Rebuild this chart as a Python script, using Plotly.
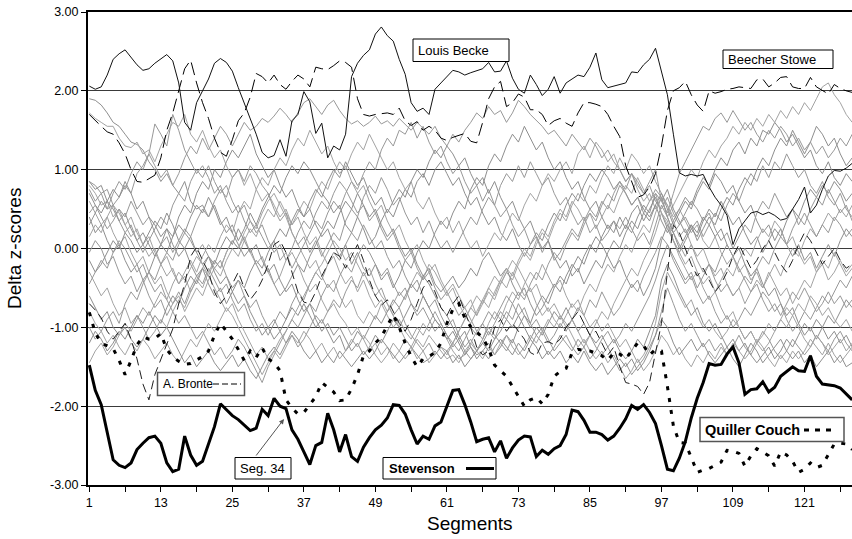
import plotly.graph_objects as go

# ---------------- data ----------------
segments = list(range(1, 130))
x_tick_values = list(range(1, 130, 6))
x_tick_labels = [str(v) if (v - 1) % 12 == 0 else "" for v in x_tick_values]
y_tick_values = [3, 2, 1, 0, -1, -2, -3]
y_tick_labels = ["3.00", "2.00", "1.00", "0.00", "-1.00", "-2.00", "-3.00"]

stevenson = [-1.48,-1.80,-1.98,-2.35,-2.68,-2.75,-2.78,-2.72,-2.55,-2.47,
             -2.40,-2.38,-2.47,-2.72,-2.83,-2.80,-2.38,-2.62,-2.75,-2.70,
             -2.48,-2.26,-1.97,-2.05,-2.12,-2.17,-2.24,-2.31,-2.28,-2.04,
             -2.12,-1.90,-2.00,-2.03,-2.30,-2.42,-2.58,-2.74,-2.50,-2.46,
             -2.09,-2.30,-2.58,-2.36,-2.64,-2.70,-2.52,-2.40,-2.30,-2.24,
             -2.15,-1.98,-1.99,-2.10,-2.30,-2.48,-2.38,-2.42,-2.25,-2.20,
             -2.00,-1.80,-1.79,-1.98,-2.20,-2.45,-2.42,-2.40,-2.58,-2.44,
             -2.66,-2.53,-2.43,-2.38,-2.39,-2.64,-2.56,-2.61,-2.54,-2.50,
             -2.36,-2.05,-2.07,-2.18,-2.33,-2.33,-2.36,-2.43,-2.38,-2.28,
             -2.16,-1.99,-2.04,-1.98,-2.08,-2.22,-2.50,-2.80,-2.82,-2.66,
             -2.45,-2.15,-1.90,-1.70,-1.46,-1.48,-1.47,-1.34,-1.25,-1.45,
             -1.85,-1.79,-1.78,-1.69,-1.82,-1.76,-1.62,-1.56,-1.50,-1.55,
             -1.56,-1.36,-1.62,-1.72,-1.73,-1.74,-1.77,-1.85,-1.92]

quiller_couch = [-0.81,-1.07,-1.20,-1.24,-1.27,-1.42,-1.60,-1.42,-1.22,-1.12,
                 -1.15,-1.14,-1.08,-1.28,-1.38,-1.43,-1.47,-1.46,-1.42,-1.37,
                 -1.30,-1.10,-0.95,-1.05,-1.15,-1.28,-1.42,-1.30,-1.38,-1.26,
                 -1.40,-1.45,-1.55,-1.92,-2.02,-2.10,-2.08,-1.98,-1.88,-1.70,
                 -1.76,-1.82,-1.93,-1.92,-1.78,-1.60,-1.36,-1.30,-1.20,-1.12,
                 -0.98,-0.84,-1.00,-1.20,-1.37,-1.50,-1.40,-1.37,-1.32,-1.20,
                 -0.95,-0.77,-0.70,-0.88,-0.99,-1.06,-1.13,-1.27,-1.48,-1.55,
                 -1.62,-1.75,-1.88,-2.00,-1.92,-1.89,-1.97,-1.85,-1.62,-1.56,
                 -1.52,-1.32,-1.28,-1.29,-1.30,-1.33,-1.36,-1.42,-1.32,-1.34,
                 -1.40,-1.30,-1.20,-1.23,-1.35,-1.28,-1.30,-1.75,-2.25,-2.46,
                 -2.47,-2.65,-2.84,-2.81,-2.79,-2.75,-2.71,-2.56,-2.57,-2.60,
                 -2.76,-2.63,-2.54,-2.58,-2.63,-2.76,-2.58,-2.62,-2.70,-2.84,
                 -2.80,-2.72,-2.78,-2.75,-2.62,-2.48,-2.47,-2.48,-2.55]

louis_becke = [2.06,2.02,2.05,2.20,2.40,2.47,2.52,2.42,2.33,2.26,
               2.28,2.35,2.40,2.46,2.38,2.10,1.60,1.50,1.85,2.00,
               2.15,2.35,2.41,2.36,2.25,2.04,1.85,1.65,1.45,1.22,
               1.15,1.18,1.38,1.17,1.62,1.70,1.99,1.86,1.46,1.59,
               1.15,1.30,1.25,1.45,2.18,2.35,2.45,2.52,2.72,2.81,
               2.70,2.63,2.40,2.21,1.85,1.74,1.78,1.70,2.02,2.10,
               2.18,2.26,2.24,2.20,2.23,2.26,2.28,2.36,2.24,2.25,
               2.38,2.16,2.02,1.97,2.20,2.08,1.94,2.02,2.18,1.97,
               2.10,2.15,2.20,2.18,2.30,2.48,2.14,2.04,2.06,2.08,
               2.10,2.24,2.23,2.33,2.40,2.54,2.25,1.95,1.45,0.96,
               0.92,0.94,0.92,0.94,0.78,0.65,0.55,0.42,0.05,0.25,
               0.35,0.45,0.47,0.43,0.46,0.42,0.36,0.38,0.50,0.62,
               0.78,0.45,0.55,0.75,0.92,0.99,0.98,1.02,1.08]

beecher_stowe = [1.70,1.62,1.55,1.48,1.45,1.34,1.20,1.00,0.85,0.84,
                 0.88,0.93,1.15,1.50,1.72,2.00,2.28,2.39,2.10,1.85,
                 1.65,1.40,1.22,1.17,1.38,1.62,1.72,1.92,2.22,2.18,
                 2.10,2.20,2.08,2.02,2.12,2.20,2.15,2.05,2.30,2.28,
                 2.27,2.32,2.38,2.36,2.30,1.90,1.70,1.68,1.70,1.71,
                 1.72,1.70,1.78,1.62,1.56,1.61,1.50,1.55,1.50,1.40,
                 1.37,1.41,1.44,1.46,1.36,1.34,1.60,1.90,2.05,2.12,
                 1.80,1.85,1.96,1.92,1.76,1.76,1.70,1.56,1.62,1.65,
                 1.59,1.55,1.72,1.85,1.85,1.83,1.80,1.70,1.55,1.42,
                 1.05,0.85,0.65,0.68,0.78,0.95,1.30,1.75,2.00,2.04,
                 2.12,1.95,1.82,1.74,2.00,1.97,1.99,2.02,2.03,2.05,
                 2.04,2.03,2.14,2.15,2.05,2.10,2.17,2.18,2.05,2.03,
                 2.03,2.17,2.05,2.01,1.96,2.08,2.03,2.00,1.98]

a_bronte = [-0.70,-0.78,-0.88,-1.05,-1.15,-1.05,-0.95,-1.15,-1.40,-1.72,
            -1.92,-1.60,-1.40,-1.20,-1.02,-0.70,-0.45,-0.10,0.02,-0.15,
            -0.30,-0.55,-0.70,-0.60,-0.45,-0.30,-0.50,-0.65,-0.55,-0.40,
            -0.20,0.05,0.10,-0.05,-0.30,-0.55,-0.68,-0.70,-0.55,-0.35,
            -0.20,-0.05,-0.10,-0.25,-0.10,0.05,-0.15,-0.40,-0.60,-0.72,
            -0.65,-0.80,-0.95,-1.05,-0.90,-0.70,-0.50,-0.40,-0.55,-0.75,
            -0.85,-0.70,-0.60,-0.80,-1.00,-1.25,-1.35,-1.30,-1.00,-0.90,
            -1.05,-0.95,-1.05,-1.15,-1.32,-1.36,-1.20,-1.18,-1.22,-1.15,
            -1.00,-0.90,-0.80,-0.95,-1.10,-1.05,-1.20,-1.35,-1.25,-1.50,
            -1.70,-1.72,-1.75,-1.85,-1.70,-1.30,-0.95,-0.30,0.30,0.20,
            0.00,-0.20,-0.35,-0.25,-0.40,-0.55,-0.45,-0.30,-0.10,0.05,
            -0.10,-0.25,-0.15,0.00,0.10,-0.05,-0.20,-0.30,-0.15,0.05,
            0.20,0.10,-0.05,-0.20,-0.10,0.00,-0.15,-0.25,-0.20]

gray_01 = [1.90,1.88,1.82,1.72,1.60,1.55,1.45,1.35,1.32,1.25,
           1.10,1.00,0.85,0.95,0.80,0.70,0.85,0.60,0.50,0.55,
           0.40,0.55,0.35,0.20,0.30,0.10,0.25,0.45,0.30,0.50,
           0.65,0.80,0.70,0.90,1.05,0.95,1.10,1.00,0.85,0.70,
           0.60,0.45,0.55,0.30,0.20,0.40,0.25,0.05,0.15,0.35,
           0.50,0.40,0.60,0.75,0.65,0.85,0.95,0.80,1.00,1.10,
           0.95,0.80,0.90,0.70,0.55,0.65,0.45,0.30,0.40,0.20,
           0.10,0.25,0.05,-0.10,0.05,0.20,0.10,0.30,0.45,0.35,
           0.55,0.70,0.60,0.80,0.95,0.85,1.00,0.90,0.75,0.85,
           0.70,0.55,0.65,0.50,0.40,0.55,0.35,0.20,0.35,0.50,
           0.65,0.55,0.75,0.90,0.80,1.00,1.15,1.05,1.25,1.35,
           1.20,1.40,1.30,1.50,1.45,1.60,1.50,1.35,1.45,1.30,
           1.15,1.25,1.05,0.95,1.10,0.90,0.80,0.95,0.85]
gray_02 = [1.72,1.65,1.60,1.55,1.55,1.40,1.30,1.28,1.35,1.20,
           1.25,1.10,1.30,1.45,1.60,1.55,1.70,1.45,1.35,1.50,
           1.30,1.15,1.25,1.05,0.90,1.00,0.80,0.95,0.75,0.60,
           0.70,0.55,0.40,0.50,0.30,0.45,0.60,0.50,0.70,0.85,
           0.75,0.95,1.10,1.00,1.20,1.35,1.25,1.45,1.30,1.15,
           1.00,1.10,0.90,0.75,0.85,0.60,0.50,0.65,0.45,0.30,
           0.40,0.20,0.35,0.15,0.00,0.10,-0.10,0.05,0.20,0.10,
           0.30,0.45,0.35,0.55,0.70,0.60,0.80,0.95,0.85,1.00,
           1.10,0.95,1.20,1.30,1.15,1.35,1.25,1.10,1.20,1.00,
           0.85,0.95,0.75,0.60,0.70,0.50,0.65,0.40,0.55,0.70,
           0.85,1.00,0.90,1.10,1.25,1.15,1.30,1.40,1.55,1.45,
           1.60,1.50,1.65,1.55,1.70,1.60,1.75,1.65,1.80,1.70,
           1.85,1.75,1.90,2.05,2.10,1.95,1.85,1.70,1.60]
gray_03 = [0.85,0.80,0.70,0.75,0.55,0.65,0.80,0.70,0.95,1.05,
           1.20,1.58,1.45,1.30,1.70,1.50,1.25,1.10,0.95,1.05,
           0.90,0.70,0.80,0.60,0.45,0.55,0.35,0.20,0.30,0.15,
           0.00,0.10,-0.15,-0.05,-0.25,-0.10,0.05,0.20,0.35,0.25,
           0.45,0.60,0.50,0.70,0.85,0.75,0.95,1.10,1.00,1.25,
           1.40,1.30,1.50,1.45,1.60,1.40,1.55,1.35,1.20,1.30,
           1.10,0.95,1.05,0.85,0.70,0.80,0.60,0.75,0.55,0.40,
           0.50,0.30,0.15,0.25,0.05,0.15,-0.05,0.10,-0.15,-0.05,
           0.10,0.25,0.15,0.35,0.50,0.40,0.60,0.50,0.70,0.85,
           0.75,0.95,0.85,0.70,0.80,0.60,0.50,0.65,0.45,0.30,
           0.40,0.25,0.35,0.15,0.30,0.45,0.35,0.55,0.70,0.60,
           0.80,0.95,0.85,1.05,0.90,1.10,1.00,1.20,1.05,0.90,
           1.00,0.80,0.70,0.85,0.65,0.55,0.70,0.50,0.40]
gray_04 = [0.85,0.75,0.80,0.60,0.50,0.35,0.45,0.25,0.10,0.20,
           0.05,-0.10,0.05,0.25,0.15,0.40,0.55,0.45,0.70,0.85,
           0.75,1.00,0.90,1.10,1.25,1.15,1.30,1.45,1.20,1.05,
           0.90,1.00,0.80,0.65,0.75,0.55,0.40,0.50,0.30,0.15,
           0.25,0.05,-0.10,0.05,-0.20,-0.05,-0.25,-0.35,-0.20,-0.40,
           -0.30,-0.50,-0.35,-0.15,-0.25,-0.05,0.10,0.00,0.20,0.35,
           0.25,0.45,0.60,0.50,0.75,0.90,0.80,1.05,1.20,1.10,
           1.30,1.45,1.35,1.55,1.40,1.25,1.35,1.15,1.00,1.10,
           0.90,0.75,0.85,0.65,0.50,0.60,0.40,0.25,0.35,0.15,
           0.30,0.20,0.40,0.55,0.45,0.70,0.60,0.75,0.50,0.35,
           0.20,0.30,0.10,0.25,0.40,0.30,0.50,0.65,0.55,0.75,
           0.90,0.80,1.00,1.15,1.05,1.25,1.40,1.30,1.50,1.35,
           1.20,1.35,1.55,1.45,1.30,1.40,1.20,1.05,1.15]
gray_05 = [0.80,0.70,0.55,0.60,0.40,0.50,0.30,0.15,0.25,0.05,
           -0.10,0.00,-0.20,-0.35,-0.25,-0.45,-0.30,-0.15,-0.30,-0.10,
           0.05,-0.05,0.15,0.30,0.20,0.45,0.60,0.50,0.75,0.90,
           0.80,1.00,1.15,1.05,1.25,1.40,1.30,1.50,1.35,1.20,
           1.30,1.10,0.95,1.05,0.85,0.70,0.80,0.60,0.45,0.55,
           0.35,0.20,0.30,0.10,-0.05,0.05,-0.15,-0.30,-0.20,-0.40,
           -0.55,-0.45,-0.60,-0.75,-0.65,-0.85,-0.70,-0.55,-0.65,-0.45,
           -0.30,-0.40,-0.20,-0.05,-0.15,0.05,0.20,0.10,0.30,0.45,
           0.35,0.55,0.70,0.60,0.80,0.70,0.90,1.05,0.95,1.15,
           1.00,1.20,1.10,0.95,1.05,0.85,0.70,0.55,0.40,0.50,
           0.35,0.20,0.30,0.10,0.00,0.15,-0.05,-0.20,-0.10,-0.30,
           -0.20,-0.40,-0.30,-0.50,-0.35,-0.20,-0.35,-0.15,0.00,-0.10,
           0.10,0.25,0.15,0.30,0.45,0.35,0.50,0.40,0.55]
gray_06 = [0.75,0.60,0.70,0.50,0.55,0.35,0.20,0.30,0.10,-0.05,
           0.10,0.25,0.40,0.30,0.55,0.70,0.60,0.85,1.00,0.90,
           1.05,0.85,0.70,0.80,0.60,0.45,0.55,0.35,0.20,0.30,
           0.10,-0.05,0.05,-0.15,0.00,0.20,0.35,0.25,0.45,0.60,
           0.50,0.70,0.85,0.75,0.60,0.45,0.55,0.35,0.45,0.25,
           0.10,0.20,0.00,-0.15,-0.05,-0.25,-0.40,-0.30,-0.50,-0.65,
           -0.55,-0.70,-0.85,-0.75,-0.90,-1.05,-0.95,-1.10,-0.95,-0.80,
           -0.90,-0.70,-0.55,-0.65,-0.45,-0.30,-0.40,-0.20,-0.05,-0.15,
           0.05,0.20,0.10,0.30,0.45,0.35,0.55,0.70,0.60,0.80,
           0.70,0.55,0.65,0.45,0.60,0.75,0.65,0.40,0.20,0.05,
           -0.10,0.05,-0.15,-0.30,-0.20,-0.40,-0.55,-0.45,-0.60,-0.50,
           -0.35,-0.45,-0.25,-0.10,-0.20,0.00,0.15,0.05,0.25,0.40,
           0.30,0.50,0.65,0.55,0.75,0.60,0.45,0.55,0.35]
gray_07 = [0.70,0.55,0.45,0.60,0.75,0.65,0.85,0.70,0.50,0.60,
           0.40,0.30,0.15,0.25,0.05,-0.10,0.00,-0.20,-0.35,-0.25,
           -0.45,-0.60,-0.50,-0.70,-0.55,-0.40,-0.50,-0.30,-0.15,-0.25,
           -0.05,0.10,0.25,0.15,0.35,0.50,0.40,0.60,0.75,0.65,
           0.85,1.00,0.90,1.10,0.95,0.80,0.90,0.70,0.55,0.65,
           0.45,0.60,0.75,0.65,0.85,1.00,0.90,1.10,1.25,1.15,
           1.30,1.20,1.05,1.15,0.95,0.80,0.90,0.70,0.85,0.65,
           0.50,0.60,0.40,0.25,0.35,0.15,0.00,0.10,-0.10,-0.25,
           -0.15,-0.35,-0.25,-0.45,-0.30,-0.15,-0.25,-0.05,0.10,0.00,
           0.20,0.35,0.25,0.45,0.35,0.55,0.70,0.50,0.30,0.45,
           0.60,0.50,0.70,0.85,0.75,0.95,0.85,0.70,0.80,0.60,
           0.45,0.55,0.35,0.20,0.30,0.10,0.25,0.05,-0.10,0.05,
           -0.15,-0.05,-0.25,-0.10,0.05,-0.10,0.10,0.25,0.15]
gray_08 = [0.60,0.45,0.30,0.40,0.20,0.05,0.15,-0.05,-0.20,-0.10,
           -0.30,-0.45,-0.35,-0.55,-0.70,-0.60,-0.80,-0.65,-0.50,-0.60,
           -0.40,-0.25,-0.35,-0.15,0.00,-0.10,0.10,0.25,0.15,0.35,
           0.50,0.40,0.60,0.45,0.30,0.40,0.20,0.05,0.15,-0.05,
           -0.20,-0.10,-0.30,-0.45,-0.35,-0.55,-0.40,-0.60,-0.75,-0.65,
           -0.80,-0.70,-0.55,-0.65,-0.45,-0.30,-0.40,-0.20,-0.30,-0.45,
           -0.60,-0.50,-0.70,-0.85,-0.95,-0.80,-0.65,-0.75,-0.55,-0.40,
           -0.50,-0.30,-0.45,-0.60,-0.50,-0.70,-0.85,-0.75,-0.90,-1.00,
           -0.85,-0.70,-0.80,-0.60,-0.45,-0.55,-0.35,-0.20,-0.30,-0.10,
           0.05,-0.05,0.15,0.30,0.20,0.45,0.65,0.55,0.35,0.15,
           0.25,0.05,-0.10,0.00,-0.20,-0.35,-0.25,-0.45,-0.60,-0.50,
           -0.70,-0.55,-0.40,-0.50,-0.30,-0.45,-0.60,-0.50,-0.70,-0.55,
           -0.40,-0.50,-0.30,-0.15,-0.25,-0.05,-0.20,-0.35,-0.25]
gray_09 = [0.45,0.55,0.40,0.25,0.35,0.50,0.40,0.60,0.45,0.30,
           0.40,0.20,0.05,0.15,-0.05,0.10,0.25,0.15,0.35,0.50,
           0.40,0.60,0.75,0.65,0.90,1.00,0.85,1.05,0.95,0.80,
           0.70,0.50,0.35,0.45,0.20,0.05,0.15,-0.05,0.10,-0.10,
           0.05,0.20,0.10,0.35,0.50,0.40,0.65,0.80,0.70,0.90,
           0.75,0.55,0.65,0.45,0.30,0.40,0.20,0.35,0.15,0.00,
           0.10,-0.05,0.10,0.25,0.40,0.30,0.50,0.65,0.55,0.80,
           0.95,0.85,1.05,0.90,1.10,0.95,0.80,0.90,0.70,0.55,
           0.65,0.45,0.30,0.40,0.20,0.30,0.10,0.20,0.35,0.25,
           0.40,0.25,0.10,0.20,0.05,0.30,0.55,0.40,0.20,0.30,
           0.45,0.60,0.50,0.35,0.45,0.25,0.10,0.20,0.00,0.15,
           0.30,0.20,0.45,0.60,0.50,0.70,0.55,0.40,0.50,0.30,
           0.45,0.30,0.15,0.30,0.20,0.40,0.30,0.15,0.25]
gray_10 = [0.40,0.20,0.30,0.10,-0.05,0.05,-0.15,-0.30,-0.20,-0.40,
           -0.30,-0.10,0.05,-0.05,0.15,0.30,0.20,0.40,0.55,0.45,
           0.65,0.50,0.30,0.40,0.20,0.05,-0.10,0.00,-0.20,-0.35,
           -0.25,-0.45,-0.60,-0.50,-0.35,-0.20,-0.30,-0.10,0.05,0.20,
           0.35,0.25,0.45,0.60,0.50,0.70,0.55,0.40,0.50,0.30,
           0.15,0.25,0.05,-0.10,0.00,-0.20,-0.35,-0.25,-0.45,-0.55,
           -0.45,-0.35,-0.50,-0.40,-0.25,-0.35,-0.15,-0.05,-0.20,-0.35,
           -0.25,-0.45,-0.60,-0.50,-0.70,-0.85,-0.75,-0.60,-0.45,-0.55,
           -0.35,-0.20,-0.30,-0.10,0.05,-0.05,0.15,0.30,0.20,0.40,
           0.25,0.45,0.55,0.35,0.50,0.65,0.45,0.25,0.10,-0.05,
           0.10,0.25,0.15,0.35,0.50,0.40,0.60,0.45,0.30,0.40,
           0.20,0.05,0.15,-0.05,0.10,0.25,0.15,0.35,0.50,0.40,
           0.60,0.75,0.65,0.80,0.70,0.85,0.75,0.60,0.70]
gray_11 = [0.15,0.30,0.20,0.40,0.55,0.45,0.30,0.40,0.20,0.05,
           0.15,-0.05,-0.20,-0.10,-0.30,-0.45,-0.35,-0.55,-0.40,-0.25,
           -0.35,-0.15,-0.25,-0.05,0.10,0.00,0.20,0.35,0.25,0.45,
           0.60,0.70,0.55,0.40,0.20,0.05,-0.10,-0.25,-0.15,-0.35,
           -0.50,-0.40,-0.60,-0.75,-0.65,-0.85,-0.95,-0.80,-0.90,-0.70,
           -0.85,-1.00,-0.90,-1.05,-1.15,-1.00,-1.10,-0.95,-0.80,-0.95,
           -1.10,-1.20,-1.05,-0.90,-0.75,-0.85,-0.65,-0.50,-0.60,-0.40,
           -0.25,-0.35,-0.15,0.00,-0.10,0.10,0.25,0.15,0.35,0.50,
           0.40,0.60,0.50,0.35,0.45,0.25,0.40,0.55,0.45,0.65,
           0.80,0.70,0.90,0.75,0.60,0.70,0.45,0.30,0.10,-0.05,
           -0.20,-0.10,-0.30,-0.45,-0.35,-0.55,-0.40,-0.25,-0.35,-0.15,
           0.00,-0.10,0.10,0.25,0.15,0.35,0.25,0.05,0.15,-0.05,
           -0.20,-0.10,-0.30,-0.20,-0.40,-0.30,-0.15,-0.30,-0.20]
gray_12 = [-0.05,0.10,0.00,-0.20,-0.10,-0.30,-0.45,-0.35,-0.55,-0.40,
           -0.60,-0.75,-0.65,-0.85,-0.70,-0.55,-0.70,-0.50,-0.35,-0.45,
           -0.25,-0.40,-0.55,-0.45,-0.65,-0.80,-0.70,-0.90,-1.05,-0.95,
           -1.10,-0.95,-0.80,-0.90,-0.70,-0.55,-0.65,-0.45,-0.30,-0.40,
           -0.20,-0.05,-0.15,0.05,0.20,0.10,0.30,0.15,0.00,0.10,
           -0.10,-0.25,-0.15,-0.35,-0.50,-0.40,-0.60,-0.75,-0.65,-0.85,
           -1.00,-0.90,-1.10,-1.25,-1.15,-1.30,-1.20,-1.05,-1.15,-0.95,
           -0.80,-0.90,-0.70,-0.85,-1.00,-0.90,-1.05,-1.20,-1.10,-0.95,
           -1.05,-0.90,-0.75,-0.85,-0.65,-0.75,-0.55,-0.70,-0.85,-0.75,
           -0.60,-0.45,-0.55,-0.35,-0.20,-0.05,0.15,0.05,-0.15,-0.30,
           -0.45,-0.35,-0.55,-0.70,-0.60,-0.80,-0.95,-0.85,-1.00,-0.90,
           -0.75,-0.85,-0.70,-0.55,-0.65,-0.80,-0.70,-0.90,-1.05,-0.95,
           -0.80,-0.90,-0.75,-0.60,-0.70,-0.55,-0.40,-0.50,-0.35]
gray_13 = [-0.15,-0.30,-0.20,-0.05,0.10,0.00,0.20,0.10,-0.05,0.05,
           0.20,0.35,0.25,0.45,0.30,0.10,0.00,0.15,-0.05,-0.20,
           -0.10,-0.30,-0.45,-0.35,-0.55,-0.70,-0.60,-0.80,-0.95,-1.10,
           -1.00,-1.15,-1.05,-0.90,-0.75,-0.85,-0.70,-0.85,-1.00,-0.90,
           -1.05,-1.20,-1.10,-1.30,-1.20,-1.05,-1.15,-1.00,-0.85,-0.95,
           -0.80,-0.65,-0.75,-0.60,-0.45,-0.55,-0.35,-0.45,-0.60,-0.75,
           -0.85,-1.00,-1.15,-1.05,-1.25,-1.35,-1.30,-1.20,-1.35,-1.25,
           -1.10,-1.20,-1.00,-0.85,-0.95,-0.75,-0.60,-0.70,-0.50,-0.35,
           -0.45,-0.25,-0.10,-0.20,0.00,0.15,0.05,-0.10,-0.25,-0.15,
           -0.35,-0.50,-0.40,-0.60,-0.45,-0.25,0.10,0.30,0.20,0.00,
           0.15,0.30,0.20,0.40,0.30,0.15,0.25,0.05,-0.10,0.00,
           -0.20,-0.35,-0.25,-0.45,-0.60,-0.50,-0.70,-0.85,-0.75,-0.95,
           -1.10,-1.00,-1.15,-1.00,-0.85,-0.95,-0.80,-0.65,-0.75]
gray_14 = [-0.30,-0.45,-0.60,-0.50,-0.70,-0.85,-0.75,-0.95,-0.85,-1.00,
           -1.15,-1.05,-0.90,-1.00,-0.80,-0.65,-0.75,-0.55,-0.40,-0.50,
           -0.30,-0.15,-0.25,-0.05,0.10,0.00,0.15,-0.05,-0.20,-0.10,
           -0.30,-0.45,-0.35,-0.15,-0.05,-0.20,-0.40,-0.55,-0.45,-0.65,
           -0.80,-0.70,-0.85,-0.95,-1.10,-1.00,-1.15,-1.30,-1.20,-1.35,
           -1.25,-1.40,-1.30,-1.15,-1.25,-1.10,-0.95,-1.05,-0.90,-1.00,
           -1.15,-1.30,-1.40,-1.35,-1.20,-1.05,-1.15,-0.95,-0.80,-0.90,
           -0.70,-0.55,-0.65,-0.45,-0.30,-0.40,-0.20,-0.35,-0.50,-0.40,
           -0.60,-0.75,-0.65,-0.85,-1.00,-0.90,-1.05,-0.95,-1.10,-1.25,
           -1.15,-1.30,-1.45,-1.35,-1.20,-0.95,-0.55,-0.30,-0.45,-0.60,
           -0.75,-0.65,-0.85,-1.00,-0.90,-1.05,-1.15,-1.05,-0.90,-1.00,
           -1.15,-1.05,-1.20,-1.30,-1.20,-1.05,-0.90,-1.00,-0.85,-0.70,
           -0.80,-0.60,-0.70,-0.85,-0.75,-0.90,-1.00,-0.90,-1.05]
gray_15 = [-0.45,-0.30,-0.15,-0.25,-0.05,0.10,0.00,-0.15,-0.30,-0.20,
           -0.40,-0.55,-0.45,-0.65,-0.80,-0.95,-0.85,-1.00,-1.15,-1.05,
           -1.20,-1.35,-1.25,-1.40,-1.30,-1.15,-1.25,-1.40,-1.55,-1.70,
           -1.50,-1.35,-1.20,-1.05,-0.90,-1.00,-0.85,-0.70,-0.80,-0.60,
           -0.45,-0.55,-0.35,-0.20,-0.30,-0.10,0.05,-0.05,-0.20,-0.35,
           -0.25,-0.45,-0.60,-0.50,-0.70,-0.85,-0.75,-0.90,-1.05,-0.95,
           -1.10,-1.25,-1.15,-1.30,-1.40,-1.30,-1.15,-1.00,-1.10,-1.20,
           -1.30,-1.15,-1.30,-1.40,-1.25,-1.10,-1.20,-1.35,-1.25,-1.10,
           -1.20,-1.30,-1.15,-1.25,-1.10,-1.25,-1.35,-1.25,-1.40,-1.55,
           -1.45,-1.60,-1.50,-1.40,-1.25,-1.10,-0.80,-0.50,-0.70,-0.90,
           -1.05,-0.95,-1.10,-1.25,-1.15,-1.30,-1.20,-1.35,-1.25,-1.10,
           -1.25,-1.35,-1.20,-1.05,-1.15,-1.30,-1.40,-1.30,-1.15,-1.25,
           -1.35,-1.25,-1.10,-1.20,-1.30,-1.15,-1.05,-1.20,-1.30]
gray_16 = [-0.60,-0.75,-0.90,-0.80,-1.00,-1.10,-1.00,-1.15,-1.25,-1.15,
           -1.00,-0.85,-0.95,-0.75,-0.60,-0.70,-0.50,-0.35,-0.45,-0.25,
           -0.10,-0.20,0.00,0.15,0.05,0.25,0.10,-0.05,0.05,-0.15,
           -0.30,-0.20,-0.40,-0.55,-0.45,-0.65,-0.80,-0.70,-0.90,-1.05,
           -0.95,-1.10,-1.00,-1.15,-1.30,-1.20,-1.35,-1.25,-1.10,-1.20,
           -1.05,-0.90,-1.00,-0.85,-0.70,-0.80,-0.60,-0.75,-0.90,-1.00,
           -1.15,-1.05,-1.20,-1.35,-1.25,-1.40,-1.30,-1.40,-1.25,-1.15,
           -1.25,-1.35,-1.20,-1.30,-1.15,-1.00,-1.10,-0.95,-0.80,-0.90,
           -0.75,-0.90,-1.05,-0.95,-1.10,-1.20,-1.10,-1.25,-1.15,-1.30,
           -1.40,-1.30,-1.15,-1.25,-1.05,-0.85,-0.40,-0.20,-0.35,-0.55,
           -0.70,-0.85,-0.75,-0.95,-1.05,-0.95,-1.10,-1.25,-1.15,-1.30,
           -1.20,-1.35,-1.45,-1.35,-1.25,-1.40,-1.30,-1.15,-1.25,-1.10,
           -0.95,-1.05,-0.90,-1.00,-1.15,-1.05,-1.20,-1.10,-1.25]
gray_17 = [-0.80,-0.95,-1.05,-1.20,-1.10,-1.25,-1.35,-1.20,-1.30,-1.15,
           -1.25,-1.40,-1.30,-1.20,-1.35,-1.45,-1.30,-1.15,-1.25,-1.10,
           -0.95,-1.05,-0.90,-0.75,-0.85,-1.00,-1.15,-1.30,-1.45,-1.60,
           -1.45,-1.30,-1.40,-1.25,-1.10,-1.20,-1.05,-1.15,-1.30,-1.20,
           -1.35,-1.25,-1.40,-1.30,-1.15,-1.25,-1.10,-1.20,-1.35,-1.45,
           -1.35,-1.20,-1.30,-1.40,-1.30,-1.15,-1.25,-1.10,-1.20,-1.30,
           -1.40,-1.35,-1.45,-1.30,-1.20,-1.30,-1.40,-1.25,-1.35,-1.20,
           -1.10,-1.25,-1.35,-1.25,-1.10,-1.20,-1.05,-0.90,-1.00,-0.85,
           -0.95,-1.10,-1.25,-1.15,-1.30,-1.40,-1.30,-1.45,-1.35,-1.50,
           -1.65,-1.55,-1.40,-1.55,-1.45,-1.30,-1.10,-1.20,-1.35,-1.25,
           -1.40,-1.50,-1.35,-1.45,-1.30,-1.40,-1.25,-1.35,-1.20,-1.30,
           -1.40,-1.30,-1.15,-1.25,-1.40,-1.50,-1.35,-1.45,-1.30,-1.40,
           -1.30,-1.15,-1.25,-1.35,-1.20,-1.35,-1.45,-1.35,-1.25]
gray_18 = [-1.00,-1.15,-1.05,-0.90,-0.80,-0.95,-0.70,-0.55,-0.65,-0.45,
           -0.30,-0.40,-0.20,-0.05,-0.15,0.05,0.20,0.10,-0.05,0.05,
           -0.10,-0.25,-0.15,-0.35,-0.50,-0.40,-0.60,-0.75,-0.65,-0.85,
           -1.00,-0.90,-1.05,-1.20,-1.10,-1.25,-1.15,-1.00,-0.85,-0.95,
           -0.80,-0.65,-0.75,-0.55,-0.40,-0.50,-0.30,-0.45,-0.60,-0.50,
           -0.70,-0.85,-0.75,-0.95,-1.10,-1.20,-1.30,-1.20,-1.35,-1.25,
           -1.30,-1.20,-1.30,-1.15,-1.00,-1.10,-0.95,-0.80,-0.90,-0.75,
           -0.60,-0.70,-0.85,-0.75,-0.95,-1.10,-1.00,-1.15,-1.30,-1.20,
           -1.10,-1.25,-1.35,-1.25,-1.40,-1.30,-1.15,-1.05,-1.20,-1.10,
           -0.95,-1.05,-0.90,-0.75,-0.60,-0.40,-0.15,0.05,-0.10,-0.25,
           -0.40,-0.30,-0.50,-0.35,-0.20,-0.30,-0.10,0.05,-0.10,-0.25,
           -0.40,-0.55,-0.45,-0.65,-0.80,-0.70,-0.85,-0.70,-0.55,-0.65,
           -0.50,-0.65,-0.80,-0.70,-0.55,-0.70,-0.60,-0.75,-0.65]
gray_19 = [-1.20,-1.05,-1.15,-1.30,-1.20,-1.05,-1.15,-1.00,-0.85,-0.95,
           -0.80,-0.95,-1.10,-1.00,-1.15,-1.30,-1.45,-1.35,-1.50,-1.40,
           -1.30,-1.45,-1.55,-1.45,-1.35,-1.50,-1.40,-1.55,-1.65,-1.50,
           -1.35,-1.25,-1.35,-1.20,-1.05,-1.15,-1.30,-1.40,-1.30,-1.45,
           -1.35,-1.45,-1.30,-1.40,-1.50,-1.40,-1.30,-1.40,-1.30,-1.15,
           -1.25,-1.35,-1.45,-1.35,-1.25,-1.35,-1.45,-1.40,-1.30,-1.40,
           -1.30,-1.45,-1.35,-1.50,-1.40,-1.30,-1.20,-1.30,-1.15,-1.05,
           -0.90,-1.00,-0.85,-1.00,-1.15,-1.25,-1.40,-1.30,-1.40,-1.30,
           -1.45,-1.35,-1.45,-1.30,-1.45,-1.55,-1.45,-1.60,-1.50,-1.40,
           -1.50,-1.40,-1.55,-1.45,-1.30,-1.10,-0.90,-1.00,-1.20,-1.35,
           -1.25,-1.15,-1.30,-1.20,-1.35,-1.45,-1.35,-1.25,-1.40,-1.50,
           -1.35,-1.20,-1.30,-1.45,-1.35,-1.25,-1.15,-1.30,-1.40,-1.30,
           -1.45,-1.35,-1.50,-1.40,-1.30,-1.45,-1.35,-1.50,-1.45]
gray_20 = [-1.45,-1.30,-1.20,-1.35,-1.25,-1.10,-0.95,-1.05,-0.90,-0.75,
           -0.85,-0.70,-0.55,-0.65,-0.45,-0.30,-0.40,-0.25,-0.10,-0.20,
           -0.35,-0.50,-0.65,-0.80,-0.70,-0.90,-1.05,-1.20,-1.35,-1.25,
           -1.40,-1.30,-1.15,-1.05,-0.90,-0.75,-0.60,-0.45,-0.30,-0.20,
           -0.05,0.10,0.00,-0.15,-0.05,-0.20,-0.35,-0.25,-0.45,-0.60,
           -0.70,-0.85,-1.00,-1.15,-1.25,-1.40,-1.30,-1.45,-1.35,-1.25,
           -1.35,-1.20,-1.05,-0.90,-0.75,-0.60,-0.70,-0.50,-0.35,-0.45,
           -0.30,-0.15,-0.25,-0.40,-0.55,-0.45,-0.65,-0.80,-0.70,-0.85,
           -1.00,-0.90,-1.05,-1.20,-1.10,-0.95,-0.80,-0.90,-0.70,-0.55,
           -0.40,-0.25,-0.35,-0.15,0.00,0.20,0.45,0.35,0.10,-0.10,
           -0.25,-0.40,-0.30,-0.50,-0.65,-0.55,-0.75,-0.90,-0.80,-1.00,
           -1.15,-1.05,-1.20,-1.10,-0.95,-1.05,-0.90,-0.75,-0.85,-1.00,
           -1.15,-1.25,-1.10,-1.20,-1.35,-1.25,-1.15,-1.30,-1.20]
gray_21 = [0.30,0.45,0.60,0.50,0.70,0.85,0.75,0.95,1.10,1.00,
           1.20,1.05,0.90,1.00,0.80,0.95,1.15,1.30,1.20,1.40,
           1.25,1.40,1.55,1.45,1.30,1.45,1.60,1.50,1.55,1.65,
           1.60,1.68,1.78,1.70,1.60,1.72,1.85,1.90,1.80,1.70,
           1.82,1.88,1.75,1.65,1.58,1.62,1.55,1.60,1.68,1.58,
           1.62,1.55,1.65,1.58,1.50,1.60,1.52,1.45,1.55,1.40,
           1.30,1.45,1.35,1.50,1.60,1.72,1.65,1.80,1.70,1.75,
           1.60,1.72,1.88,1.80,1.70,1.62,1.55,1.45,1.50,1.40,
           1.30,1.45,1.35,1.25,1.40,1.30,1.15,1.25,1.10,1.00,
           0.85,0.95,0.80,0.70,0.85,1.00,0.60,0.45,0.70,0.95,
           1.10,1.25,1.40,1.55,1.50,1.65,1.72,1.60,1.75,1.62,
           1.50,1.60,1.45,1.35,1.50,1.40,1.55,1.45,1.30,1.40,
           1.25,1.35,1.20,1.30,1.15,1.25,1.40,1.30,1.45]

gray_series = [gray_01, gray_02, gray_03, gray_04, gray_05, gray_06, gray_07,
               gray_08, gray_09, gray_10, gray_11, gray_12, gray_13, gray_14,
               gray_15, gray_16, gray_17, gray_18, gray_19, gray_20, gray_21]

# ---------------- figure ----------------
FONT = "Liberation Sans, Arial, sans-serif"
L, R, T, B = 88, 0, 12, 54
W, H = 852, 539
PW, PH = W - L - R, H - T - B


def px(x):
    return (x - L) / PW


def py(y):
    return (H - B - y) / PH


fig = go.Figure()

gray_colors = ["#8e8e8e", "#a3a3a3", "#989898"]
for i, g in enumerate(gray_series):
    fig.add_trace(go.Scatter(x=segments[:len(g)], y=g, mode="lines",
                             line=dict(color=gray_colors[i % 3], width=1),
                             hoverinfo="skip", showlegend=False))

fig.add_trace(go.Scatter(x=segments, y=a_bronte, mode="lines", name="A. Bronte",
                         line=dict(color="#202020", width=1, dash="9px,5px")))
fig.add_trace(go.Scatter(x=segments, y=beecher_stowe, mode="lines", name="Beecher Stowe",
                         line=dict(color="#000000", width=1, dash="13px,6px")))
fig.add_trace(go.Scatter(x=segments, y=louis_becke, mode="lines", name="Louis Becke",
                         line=dict(color="#111111", width=1)))
fig.add_trace(go.Scatter(x=segments, y=quiller_couch, mode="lines", name="Quiller Couch",
                         line=dict(color="#000000", width=3, dash="4px,8px")))
fig.add_trace(go.Scatter(x=segments, y=stevenson, mode="lines", name="Stevenson",
                         line=dict(color="#000000", width=3)))

# label boxes (pixel positions converted to paper coordinates)
boxes = [
    # x0, x1, y0, y1, border colour, border width
    (413, 509, 39, 61.5, "#000000", 1),
    (723, 833, 50, 68.5, "#000000", 1),
    (157.5, 244.5, 372.5, 395.5, "#555555", 1.5),
    (235, 291, 457.5, 479, "#000000", 1),
    (383, 496, 457.5, 479, "#000000", 1),
    (700, 844, 417.5, 441.5, "#555555", 1.5),
]
shapes = []
for x0, x1, y0, y1, bc, bw in boxes:
    shapes.append(dict(type="rect", xref="paper", yref="paper",
                       x0=px(x0), x1=px(x1), y0=py(y1), y1=py(y0),
                       fillcolor="white", line=dict(color=bc, width=bw), layer="above"))
# line-style samples inside the boxes
shapes.append(dict(type="line", xref="paper", yref="paper", x0=px(213), x1=px(241),
                   y0=py(384), y1=py(384), line=dict(color="#000", width=1, dash="6px,3px")))
shapes.append(dict(type="line", xref="paper", yref="paper", x0=px(466), x1=px(494),
                   y0=py(468.5), y1=py(468.5), line=dict(color="#000", width=3)))
shapes.append(dict(type="line", xref="paper", yref="paper", x0=px(804), x1=px(832),
                   y0=py(430), y1=py(430), line=dict(color="#000", width=3, dash="5px,6px")))

labels = [
    # text, x (left), y (centre), size, bold
    ("Louis Becke", 416, 50.5, 13, False),
    ("Beecher Stowe", 726, 59.5, 13, False),
    ("A. Bronte", 161, 384, 12, False),
    ("Seg. 34", 238, 468.5, 13, False),
    ("Stevenson", 387, 468.5, 13, True),
    ("Quiller Couch", 703, 430, 14.5, True),
]
annotations = []
for text, x, y, size, bold in labels:
    annotations.append(dict(text=f"<b>{text}</b>" if bold else text,
                            xref="paper", yref="paper", x=px(x), y=py(y),
                            xanchor="left", yanchor="middle", showarrow=False,
                            font=dict(family=FONT, size=size, color="#000")))
# arrow from the "Seg. 34" box to segment 34
annotations.append(dict(text="", xref="paper", yref="paper", x=px(284), y=py(419),
                        ax=255 - 284, ay=457 - 419, showarrow=True,
                        arrowhead=2, arrowsize=1, arrowwidth=1, arrowcolor="#555555"))
# axis titles
annotations.append(dict(text="Delta z-scores", xref="paper", yref="paper",
                        x=px(14), y=py(249), textangle=-90, showarrow=False,
                        xanchor="center", yanchor="middle",
                        font=dict(family=FONT, size=19, color="#000")))
annotations.append(dict(text="Segments", xref="paper", yref="paper",
                        x=px(470), y=py(523), showarrow=False,
                        xanchor="center", yanchor="middle",
                        font=dict(family=FONT, size=19, color="#000")))

fig.update_layout(
    width=W, height=H,
    margin=dict(l=L, r=R, t=T, b=B, pad=0),
    paper_bgcolor="white", plot_bgcolor="white",
    showlegend=False,
    font=dict(family=FONT, size=12, color="#000"),
    shapes=shapes, annotations=annotations,
    xaxis=dict(range=[0.78, 128.97], tickmode="array", tickvals=x_tick_values,
               ticktext=x_tick_labels, ticks="outside", ticklen=5, tickwidth=1,
               tickcolor="#000", showgrid=False, zeroline=False,
               showline=True, linecolor="#000", linewidth=2, mirror=True,
               tickfont=dict(family=FONT, size=12.5, color="#000")),
    yaxis=dict(range=[-3, 3], tickmode="array", tickvals=y_tick_values,
               ticktext=y_tick_labels, ticks="outside", ticklen=5, tickwidth=1,
               tickcolor="#000", showgrid=True, gridcolor="#3a3a3a", gridwidth=1,
               zeroline=False, showline=True, linecolor="#000", linewidth=2,
               tickfont=dict(family=FONT, size=12.5, color="#000")),
)

fig.write_html("out.html", config={"displayModeBar": False},
               post_script="document.body.style.margin='0';document.body.style.overflow='hidden';")
